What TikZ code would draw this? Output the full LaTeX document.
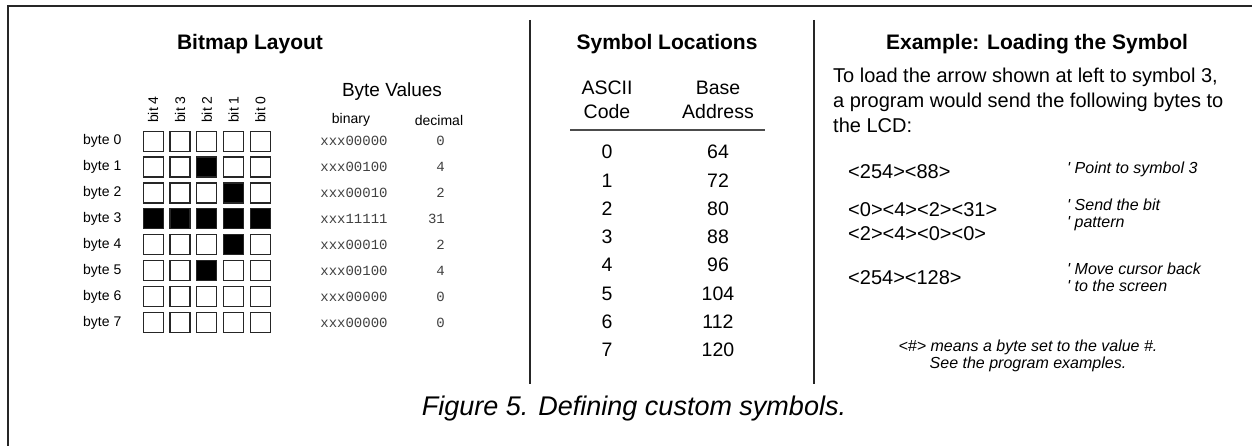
\documentclass[tikz,border=0pt]{standalone}
\usepackage{fontspec}
\setmainfont{Liberation Sans}
\setmonofont{Liberation Mono}
\begin{document}
\begin{tikzpicture}[x=1pt,y=-1pt,
  cell/.style={draw=black!85,line width=1.2pt,minimum size=20pt,inner sep=0pt},
  on/.style={fill=black},
  ttl/.style={font=\fontsize{21}{25}\selectfont\bfseries},
  lbl/.style={font=\fontsize{14}{16}\selectfont,inner sep=0pt},
  mono/.style={font=\fontsize{14}{16}\selectfont\ttfamily,text=black!75,inner sep=0pt},
  num/.style={font=\fontsize{19.5}{23}\selectfont,inner sep=0pt},
  body/.style={font=\fontsize{20}{25}\selectfont,inner sep=0pt,align=left},
  code/.style={font=\fontsize{20}{24}\selectfont,inner sep=0pt,align=left},
  cmt/.style={font=\fontsize{16}{17}\selectfont\itshape,inner sep=0pt,align=left},
  rule/.style={line width=1.3pt,black!85}]
\useasboundingbox (0,0) rectangle (1252,446);
% frame
\coordinate (ftl) at (8,6);
\coordinate (ftr) at (1252,6);
\coordinate (fbl) at (8,446);
\draw[rule] (fbl) -- (ftl) -- (ftr);
% dividers
\coordinate (d1t) at (530,20); \coordinate (d1b) at (530,384);
\coordinate (d2t) at (814,20); \coordinate (d2b) at (814,384);
\draw[rule] (d1t) -- (d1b);
\draw[rule] (d2t) -- (d2b);
% ---------- Bitmap layout
\node[ttl] (t1) at (250,44) {Bitmap Layout};
\foreach \c/\b in {0/4,1/3,2/2,3/1,4/0}{
  \node[lbl,rotate=90,anchor=west] (bit\b) at (153.2+26.8*\c,123) {bit \b};
}
\foreach \r/\bin/\dec in {0/xxx00000/0,1/xxx00100/4,2/xxx00010/2,3/xxx11111/31,4/xxx00010/2,5/xxx00100/4,6/xxx00000/0,7/xxx00000/0}{
  \node[lbl,anchor=west] (byte\r) at (83,141.2+25.9*\r) {byte \r};
  \node[mono] (bin\r) at (354,141.2+25.9*\r) {\bin};
  \node[mono,anchor=east] (dec\r) at (445,141.2+25.9*\r) {\dec};
  \foreach \c in {0,...,4}{
    \node[cell] (c\r\c) at (153.2+26.8*\c,141.2+25.9*\r) {};
  }
}
\foreach \r/\c in {1/2,2/3,3/0,3/1,3/2,3/3,3/4,4/3,5/2}{
  \node[cell,on] (f\r\c) at (153.2+26.8*\c,141.2+25.9*\r) {};
}
\node[font=\fontsize{19}{22}\selectfont,inner sep=0pt] (bv) at (392,92) {Byte Values};
\node[lbl] (binh) at (351,120) {binary};
\node[lbl] (dech) at (439,120) {decimal};
% ---------- Symbol locations
\node[ttl] (t2) at (667,44) {Symbol Locations};
\node[num,align=center,font=\fontsize{19.5}{23.5}\selectfont] (hasc) at (607,100) {ASCII\\Code};
\node[num,align=center,font=\fontsize{19.5}{23.5}\selectfont] (hbase) at (718,100) {Base\\Address};
\coordinate (rl) at (570,130); \coordinate (rr) at (765,130);
\draw[line width=1.6pt,black!70] (rl) -- (rr);
\foreach \i/\a in {0/64,1/72,2/80,3/88,4/96,5/104,6/112,7/120}{
  \node[num] (asc\i) at (607,152+28.3*\i) {\i};
  \node[num] (adr\i) at (718,152+28.3*\i) {\a};
}
% ---------- Example
\node[ttl] (t3) at (1037,44) {Example: Loading the Symbol};
\node[body,anchor=north west] (para) at (833,68) {To load the arrow shown at left to symbol 3,\\a program would send the following bytes to\\the LCD:};
\node[code,anchor=west] (k1) at (848,172) {<254><88>};
\node[cmt,anchor=west] (m1) at (1067,169) {\textquotesingle\ Point to symbol 3};
\node[code,anchor=north west] (k2) at (848,202) {<0><4><2><31>\\<2><4><0><0>};
\node[cmt,anchor=north west] (m2) at (1067,199) {\textquotesingle\ Send the bit\\\textquotesingle\ pattern};
\node[code,anchor=west] (k3) at (848,278) {<254><128>};
\node[cmt,anchor=north west] (m3) at (1067,263) {\textquotesingle\ Move cursor back\\\textquotesingle\ to the screen};
\node[cmt,align=center] (note) at (1028,356) {<\#> means a byte set to the value \#.\\See the program examples.};
% ---------- caption
\node[font=\fontsize{27}{30}\selectfont\itshape,inner sep=0pt] (cap) at (634,409) {Figure 5. Defining custom symbols.};
\end{tikzpicture}
\end{document}
